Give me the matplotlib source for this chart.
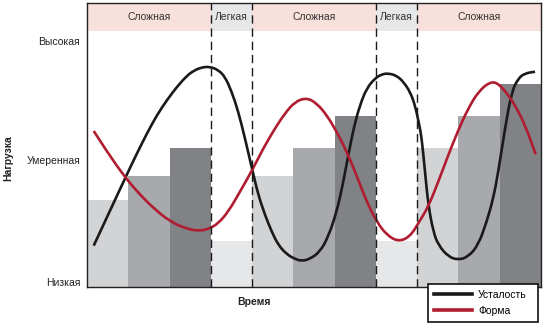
import matplotlib
matplotlib.use("Agg")
import matplotlib.pyplot as plt
from matplotlib import font_manager
from matplotlib.lines import Line2D
from matplotlib.path import Path
from matplotlib.patches import PathPatch

names = {f.name for f in font_manager.fontManager.ttflist}
FAM = ['Liberation Sans Narrow', 'Liberation Sans', 'DejaVu Sans']
FAM = [f for f in FAM if f in names] or ['DejaVu Sans']
plt.rcParams['font.family'] = FAM

# ---- data ----
phases = ['Сложная', 'Легкая', 'Сложная', 'Легкая', 'Сложная']
phase_bars = [3, 1, 3, 1, 3]
phase_kind = ['hard', 'easy', 'hard', 'easy', 'hard']
bar_tops = [82, 106, 134, 41, 106, 134, 166, 41, 134, 166, 198]
bar_shades = ['l', 'm', 'd', 'e', 'l', 'm', 'd', 'e', 'l', 'm', 'd']

level_labels = ['Низкая', 'Умеренная', 'Высокая']
level_values = [0, 122, 241]

fatigue_x = [6.7, 38.3, 50, 60, 70, 80, 90, 100, 106.7, 114.7, 123, 131.3, 138, 144.7,
             151.3, 158, 165.3, 171.3, 178, 184.7, 191.3, 199.7, 208, 214.7, 223, 233,
             241.3, 249.7, 255.7, 261.3, 267, 273, 279.7, 288, 294.7, 301.3, 309.7,
             316.3, 323, 328, 332.3, 334.7, 338, 341.3, 346.3, 351.3, 361.3, 371.3,
             381.3, 391.3, 399.7, 406.3, 411.3, 418, 424.7, 431.3, 438, 448]
fatigue_y = [36.3, 104.3, 128.7, 148.7, 167, 182, 195.3, 206.3, 211.3, 214.7, 215.3, 212,
             205.3, 190.3, 170.3, 143.7, 112, 87, 67, 50.3, 37, 27.7, 23, 21, 23, 30.3,
             45.3, 70.3, 97, 127, 155.3, 177, 193.7, 203.7, 207.7, 208.7, 206.3, 200.3,
             190.3, 177, 157, 143.7, 110.3, 77, 50.3, 37, 25.3, 22, 25.3, 37, 60.3,
             83.7, 110.3, 153.7, 190.3, 203.7, 208.7, 210.3]

form_x = [6.7, 20, 38.3, 53.3, 66.7, 83.3, 100, 113.3, 123, 131.3, 141.3, 153, 165.3,
          176.3, 188, 198, 208, 219.7, 229.7, 239.7, 249.7, 261.3, 271.3, 279.7, 289.7,
          299.7, 311.3, 323, 332.3, 341.3, 351.3, 361.3, 371.3, 381.3, 391.3, 403,
          411.3, 421.3, 429.7, 438, 448.7]
form_y = [151, 130.3, 104.3, 87, 73.7, 60.3, 53, 51, 53.7, 58.7, 70.3, 90.3, 112, 133.7,
          153.7, 168.7, 180.3, 184.3, 178.7, 167, 150.3, 127, 102, 80.3, 60.3, 47, 40.3,
          45.3, 60.3, 75.3, 100.3, 127, 152, 173.7, 190.3, 200.3, 198.7, 187, 173.7,
          157, 127.7]

series_labels = ['Усталость', 'Форма']

# ---- style ----
shade_colors = {'l': '#d2d3d5', 'm': '#a7a9ac', 'd': '#808285', 'e': '#e6e7e8'}
head_colors = {'hard': '#f8e1dc', 'easy': '#e6e7e8'}
BLACK = '#1a1a1a'
RED = '#b01c30'
YMIN, YMAX = -5, 279
HEAD_LO = 251


def smooth_path(xs, ys):
    """Quadratic-Bezier path using the read points as control points."""
    pts = list(zip(xs, ys))
    verts = [pts[0]]
    codes = [Path.MOVETO]
    for i in range(1, len(pts) - 1):
        mx = (pts[i][0] + pts[i + 1][0]) / 2
        my = (pts[i][1] + pts[i + 1][1]) / 2
        verts += [pts[i], (mx, my)]
        codes += [Path.CURVE3, Path.CURVE3]
    verts.append(pts[-1])
    codes.append(Path.LINETO)
    return Path(verts, codes)


fig = plt.figure(figsize=(5.46, 3.26), dpi=100)
ax = fig.add_axes([87/546, 39/326, 454/546, 284/326])

n = len(bar_tops)
W = 454 / n
ax.set_xlim(0, 454)
ax.set_ylim(YMIN, YMAX)

xs = [W * (i + 0.5) for i in range(n)]
ax.bar(xs, [t - YMIN for t in bar_tops], width=W, bottom=YMIN,
       color=[shade_colors[s] for s in bar_shades], linewidth=0, zorder=1)

# header band + dashed separators
start = 0
for name, nb, kind in zip(phases, phase_bars, phase_kind):
    x0, x1 = start * W, (start + nb) * W
    ax.fill_between([x0, x1], HEAD_LO, YMAX, color=head_colors[kind], linewidth=0, zorder=1)
    ax.text((x0 + x1) / 2, (HEAD_LO + YMAX) / 2, name, ha='center', va='center',
            fontsize=7.5, color='#333333', zorder=5)
    if kind == 'easy':
        for xv in (x0, x1):
            ax.plot([xv, xv], [YMIN, YMAX], color=BLACK, lw=1.0,
                    dashes=(6, 3.5), zorder=4)
    start += nb

for sx, sy, col in ((fatigue_x, fatigue_y, BLACK), (form_x, form_y, RED)):
    ax.add_patch(PathPatch(smooth_path(sx, sy), facecolor='none', edgecolor=col,
                           lw=1.9, joinstyle='round', capstyle='butt', zorder=3))

ax.set_yticks(level_values)
ax.set_yticklabels(level_labels, fontsize=7.5, color='#222222')
ax.tick_params(axis='y', length=0, pad=5)
ax.set_xticks([])
for s in ax.spines.values():
    s.set_linewidth(1.0)
    s.set_color('#222222')

fig.text(8/546, 1 - 158/326, 'Нагрузка', rotation=90, ha='center', va='center',
         fontsize=7.5, fontweight='bold', color='#222222')
fig.text(254/546, 1 - 302/326, 'Время', ha='center', va='center',
         fontsize=7.5, fontweight='bold', color='#222222')

handles = [Line2D([], [], color=BLACK, lw=2.6), Line2D([], [], color=RED, lw=2.6)]
leg = fig.legend(handles, series_labels, loc='lower left',
                 bbox_to_anchor=(428/546, 4/326, 110/546, 49/326), mode='expand',
                 fontsize=7.5, frameon=True, fancybox=False, handlelength=3.6,
                 handletextpad=0.6, borderpad=0.6, labelspacing=0.55,
                 borderaxespad=0)
leg.get_frame().set_edgecolor('#111111')
leg.get_frame().set_linewidth(1.2)
leg.get_frame().set_alpha(1)
leg.set_zorder(10)

fig.savefig('out.png', dpi=100)
